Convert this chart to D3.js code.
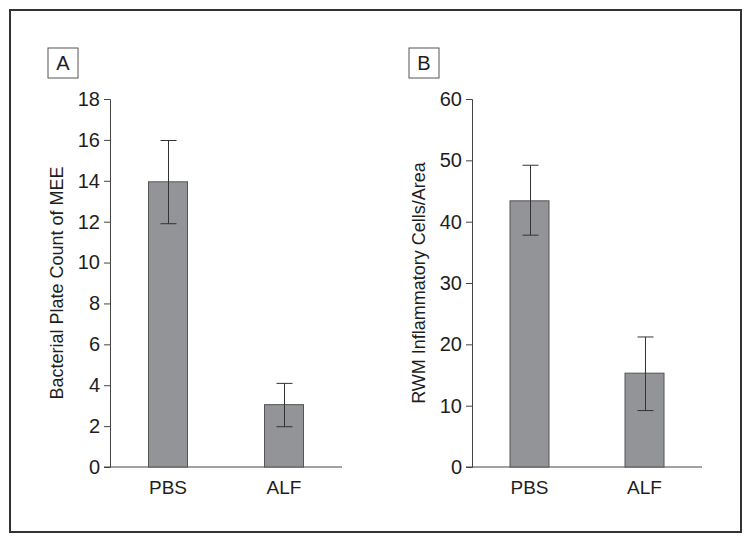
<!DOCTYPE html>
<html>
<head>
<meta charset="utf-8">
<script src="https://cdn.jsdelivr.net/npm/d3@7"></script>
<style>
  body { margin: 0; background: #fff; }
  svg { display: block; }
  text { font-family: "Liberation Sans Narrow", "Arial Narrow", "Liberation Sans", sans-serif; fill: #1e1e1e; }
</style>
</head>
<body>
<svg id="chart" width="751" height="542"></svg>
<script>
"use strict"

const categories = ["PBS", "ALF"]

// panel A: bacterial plate count
const plateMean = [13.95, 3.05]
const plateLow = [11.9, 1.97]
const plateHigh = [15.97, 4.09]
const plateTicks = [0, 2, 4, 6, 8, 10, 12, 14, 16, 18]

// panel B: inflammatory cells
const cellMean = [43.4, 15.3]
const cellLow = [37.8, 9.2]
const cellHigh = [49.2, 21.2]
const cellTicks = [0, 10, 20, 30, 40, 50, 60]

const svg = d3.select("#chart")

svg.append("rect")
    .attr("x", 10).attr("y", 10)
    .attr("width", 731).attr("height", 522)
    .attr("fill", "none")
    .attr("stroke", "#333")
    .attr("stroke-width", 2)

function drawPanel(p) {
    const g = svg.append("g")

    const x = d3.scalePoint()
        .domain(categories)
        .range([p.left, p.right])
        .padding(0.5)

    const y = d3.scaleLinear()
        .domain([0, p.ticks[p.ticks.length - 1]])
        .range([467, 99])

    // panel letter
    g.append("rect")
        .attr("x", p.boxX).attr("y", 48)
        .attr("width", 30).attr("height", 30)
        .attr("fill", "#fff")
        .attr("stroke", "#555")
        .attr("stroke-width", 1)
    g.append("text")
        .attr("x", p.boxX + 15).attr("y", 70)
        .attr("text-anchor", "middle")
        .style("font-size", "20px")
        .text(p.letter)

    const yAxis = d3.axisLeft(y)
        .tickValues(p.ticks)
        .tickSize(6)
        .tickPadding(4)

    const ax = g.append("g")
        .attr("transform", "translate(" + p.left + ",0)")
        .call(yAxis)
    ax.selectAll("path, line").attr("stroke", "#444")
    ax.selectAll("text")
        .style("font-size", "20px")
        .style("font-family", "\"Liberation Sans Narrow\", sans-serif")
        .attr("fill", "#1e1e1e")

    // baseline
    g.append("line")
        .attr("x1", p.left - 6).attr("x2", p.right)
        .attr("y1", y(0)).attr("y2", y(0))
        .attr("stroke", "#444")

    const barW = 39
    g.selectAll(".bar")
        .data(p.mean)
        .enter()
        .append("rect")
        .attr("class", "bar")
        .attr("x", (d, i) => x(categories[i]) - barW / 2)
        .attr("y", d => y(d))
        .attr("width", barW)
        .attr("height", d => y(0) - y(d))
        .attr("fill", "#939497")
        .attr("stroke", "#555")
        .attr("stroke-width", 1)

    const capW = 16
    categories.forEach((c, i) => {
        const cx = Math.round(x(c)) + 0.5
        g.append("line")
            .attr("x1", cx).attr("x2", cx)
            .attr("y1", y(p.high[i])).attr("y2", y(p.low[i]))
            .attr("stroke", "#333")
        ;[p.high[i], p.low[i]].forEach(v => {
            g.append("line")
                .attr("x1", cx - capW / 2).attr("x2", cx + capW / 2)
                .attr("y1", y(v)).attr("y2", y(v))
                .attr("stroke", "#333")
        })
        g.append("text")
            .attr("x", x(c))
            .attr("y", 494)
            .attr("text-anchor", "middle")
            .style("font-size", "19px")
            .text(c)
    })

    g.append("text")
        .attr("transform", "translate(" + p.titleX + ",283) rotate(-90)")
        .attr("text-anchor", "middle")
        .style("font-size", "18px")
        .text(p.title)
}

drawPanel({
    letter: "A", boxX: 48, left: 110, right: 342, titleX: 63,
    ticks: plateTicks, mean: plateMean, low: plateLow, high: plateHigh,
    title: "Bacterial Plate Count of MEE"
})

drawPanel({
    letter: "B", boxX: 409, left: 472, right: 702, titleX: 425,
    ticks: cellTicks, mean: cellMean, low: cellLow, high: cellHigh,
    title: "RWM Inflammatory Cells/Area"
})
</script>
</body>
</html>
